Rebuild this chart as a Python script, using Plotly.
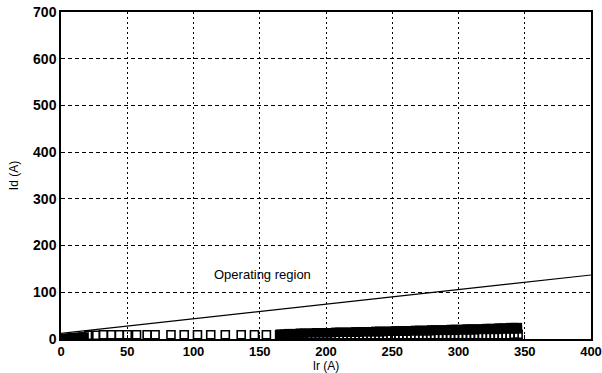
import plotly.graph_objects as go

# Restraint characteristic of the differential relay (operating line)
line_ir = [0, 400]
line_id = [12, 137]

# Measured points near the origin
origin_ir = [0, 1, 2, 3, 4, 5, 6, 7, 8, 9, 10, 12, 14, 16, 18]
origin_id = [0, 1, 1, 2, 2, 3, 3, 3, 4, 4, 4, 5, 5, 6, 6]

# Measured points, low-current part (sparse open squares)
low_ir = [21, 26, 32, 38, 44, 50, 57, 65, 71, 83, 93, 103, 113, 124, 136, 146, 155]
low_id = [8, 8, 9, 9, 9, 9, 9, 9, 9, 9, 9, 9, 9, 9, 9, 9, 9]

# Measured points, high-current part (dense band)
dense_ir = [165, 168, 171, 174, 177, 180, 183, 186, 189, 192, 195, 198, 201, 204,
            207, 210, 213, 216, 219, 222, 225, 228, 231, 234, 237, 240, 243, 246,
            249, 252, 255, 258, 261, 264, 267, 270, 273, 276, 279, 282, 285, 288,
            291, 294, 297, 300, 303, 306, 309, 312, 315, 318, 321, 324, 327, 330,
            333, 336, 339, 342, 345]
dense_id_low = [9, 9, 9, 9, 9, 9, 9, 9, 9, 9, 9, 9, 9, 9, 9, 9, 9, 9, 9, 9,
                9, 9, 9, 9, 9, 9, 9, 9, 9, 9, 9, 9, 9, 9, 9, 9, 9, 9, 9, 9,
                9, 9, 9, 9, 9, 9, 9, 9, 9, 9, 9, 9, 9, 9, 9, 9,
                9, 9, 9, 10, 10]
dense_id_mid = [10, 10, 11, 11, 11, 11, 11, 12, 12, 12, 12, 12, 12, 12, 13, 13,
                13, 13, 13, 13, 13, 14, 14, 14, 14, 14, 14, 15, 15, 15, 15, 15,
                15, 16, 16, 16, 16, 16, 16, 17, 17, 17, 17, 17, 17, 18, 18, 18,
                18, 18, 19, 19, 19, 19, 19, 19, 20, 20, 20, 20, 20]
dense_id_high = [12, 12, 13, 13, 13, 14, 14, 14, 14, 15, 15, 15, 15, 15, 16, 16,
                 16, 16, 16, 17, 17, 17, 17, 17, 18, 18, 18, 18, 18, 19, 19, 19,
                 19, 19, 20, 20, 20, 20, 21, 21, 21, 21, 21, 22, 22, 22, 22, 23,
                 23, 23, 23, 23, 24, 24, 24, 25, 25, 25, 26, 26, 26]

x_ticks = [0, 50, 100, 150, 200, 250, 300, 350, 400]
y_ticks = [0, 100, 200, 300, 400, 500, 600, 700]

open_sq = dict(symbol="square-open", size=8, color="black", line=dict(width=1.6, color="black"))
full_sq = dict(symbol="square", size=8, color="black", line=dict(width=0))

fig = go.Figure()
fig.add_trace(go.Scatter(x=line_ir, y=line_id, mode="lines",
                         line=dict(color="black", width=1.1), hoverinfo="skip"))
fig.add_trace(go.Scatter(x=origin_ir, y=origin_id, mode="markers", marker=full_sq))
fig.add_trace(go.Scatter(x=low_ir, y=low_id, mode="markers", marker=open_sq))
fig.add_trace(go.Scatter(x=dense_ir, y=dense_id_low, mode="markers", marker=open_sq))
fig.add_trace(go.Scatter(x=dense_ir, y=dense_id_mid, mode="markers", marker=full_sq))
fig.add_trace(go.Scatter(x=dense_ir, y=dense_id_high, mode="markers", marker=full_sq))

fig.add_annotation(x=152, y=139, text="Operating region", showarrow=False,
                   font=dict(size=13, color="black", family="Liberation Sans, Arial"))

x_tick_font = dict(family="Liberation Sans, Arial", size=13, color="black", weight="bold")
y_tick_font = dict(family="Liberation Sans, Arial", size=14, color="black", weight="bold")
title_font = dict(family="Liberation Sans, Arial", size=12, color="black")
fig.update_layout(
    width=602, height=373,
    margin=dict(l=61, r=11, t=12, b=34, autoexpand=False),
    paper_bgcolor="white", plot_bgcolor="white",
    showlegend=False,
    xaxis=dict(range=[0, 400], tickvals=x_ticks, ticktext=[str(v) for v in x_ticks],
               showgrid=True, gridcolor="black", griddash="2px,3px", gridwidth=1,
               showline=True, linecolor="black", linewidth=1.5, mirror=True,
               ticks="inside", ticklen=4, tickcolor="black", zeroline=False,
               title=dict(text="Ir (A)", standoff=4, font=title_font),
               tickfont=x_tick_font),
    yaxis=dict(range=[0, 700], tickvals=y_ticks, ticktext=[str(v) for v in y_ticks],
               showgrid=True, gridcolor="black", griddash="4px,3px", gridwidth=1,
               showline=True, linecolor="black", linewidth=1.5, mirror=True,
               ticks="inside", ticklen=4, tickcolor="black", zeroline=False,
               title=dict(text="Id (A)", standoff=12, font=title_font),
               tickfont=y_tick_font),
)

fig.write_html("out.html")
